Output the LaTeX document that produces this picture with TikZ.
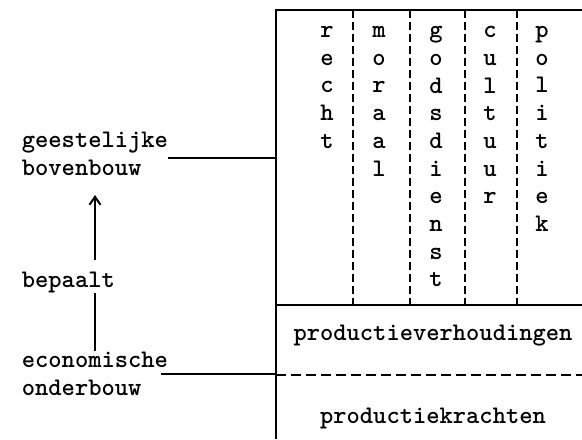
\documentclass[tikz,border=0pt]{standalone}
\usetikzlibrary{arrows.meta}

\tikzset{
  lbl/.style={font=\fontsize{12.65pt}{13.85pt}\selectfont\ttfamily\bfseries,inner sep=0pt},
  col/.style={lbl,align=center,anchor=north},
  wall/.style={line width=1pt},
  sep/.style={line width=0.8pt,dash pattern=on 4pt off 2pt},
}

\begin{document}
\begin{tikzpicture}[x=0.5pt,y=-0.5pt]
\useasboundingbox (0,0) rectangle (582,439);
% frame
\coordinate (nw) at (276,9.5);
\coordinate (ne) at (582,9.5);
\coordinate (sw) at (276,439);
\coordinate (mw) at (276,305);
\coordinate (me) at (582,305);
\coordinate (dw) at (276,375);
\coordinate (de) at (582,375);
\draw[wall] (sw) -- (nw) -- (ne);
\draw[wall] (mw) -- (me);
\draw[line width=0.8pt,dash pattern=on 5pt off 2.5pt] (dw) -- (de);
% bovenbouw columns
\foreach \x in {353,410,465,517} \draw[sep] (\x,9.5) -- (\x,305);
\node[col] (recht) at (327,26) {r\\e\\c\\h\\t};
\node[col] (moraal) at (379,26) {m\\o\\r\\a\\a\\l};
\node[col] (godsd) at (436,26) {g\\o\\d\\s\\d\\i\\e\\n\\s\\t};
\node[col] (cult) at (490,26) {c\\u\\l\\t\\u\\u\\r};
\node[col] (polit) at (542,26) {p\\o\\l\\i\\t\\i\\e\\k};
% onderbouw
\node[lbl,anchor=base] (verh) at (433,340) {productieverhoudingen};
\node[lbl,anchor=base] (kracht) at (433,423) {productiekrachten};
% left labels
\node[lbl,anchor=base west] (geest) at (21.5,147) {geestelijke};
\node[lbl,anchor=base west] (boven) at (21.5,175) {bovenbouw};
\node[lbl,anchor=base west] (bep) at (21.5,287) {bepaalt};
\node[lbl,anchor=base west] (econ) at (21.5,367) {economische};
\node[lbl,anchor=base west] (onder) at (21.5,395) {onderbouw};
\coordinate (ax) at (95,0);
\coordinate (gb) at (168,158);
\coordinate (ob) at (161,374);
\draw[wall] (gb) -- (gb -| nw);
\draw[wall] (ob) -- (ob -| dw);
\draw[line width=0.6pt,-{Straight Barb[length=4pt,width=5.5pt,line width=1pt]},shorten <=5.5pt,shorten >=10pt]
  (bep.north -| ax) -- (boven.base -| ax);
\draw[line width=0.6pt] (econ.north -| ax) -- (bep.south -| ax);
\end{tikzpicture}
\end{document}
